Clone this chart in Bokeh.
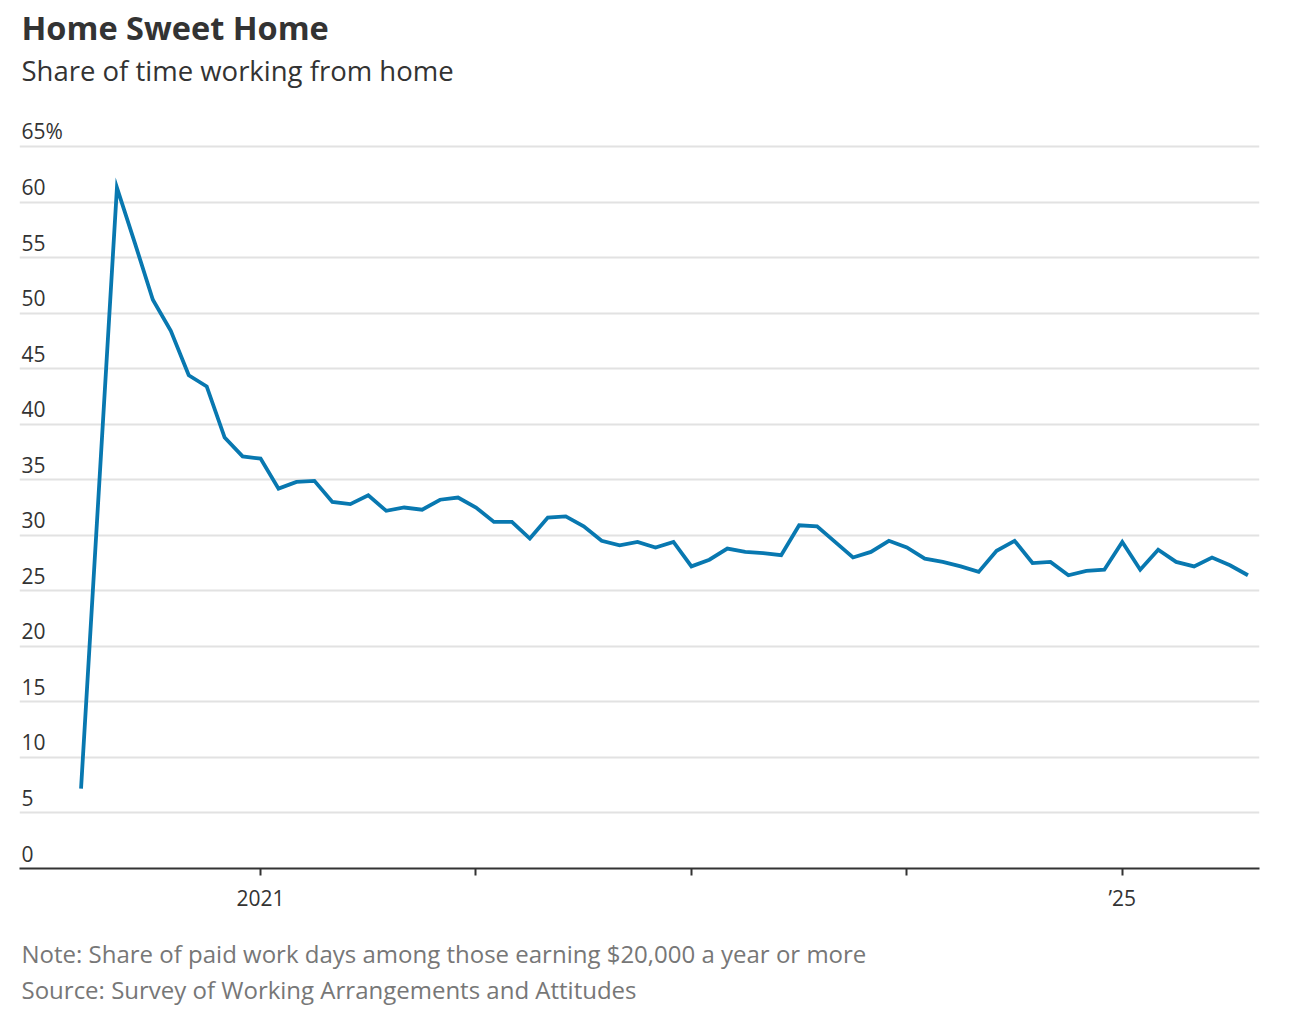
from bokeh.plotting import figure
from bokeh.layouts import column
from bokeh.models import FixedTicker, Range1d, ColumnDataSource
from bokeh.core.properties import value
from bokeh.embed import file_html
from bokeh.resources import INLINE

# ---- data ----
months = [
    "2020-03", "2020-05", "2020-06", "2020-07", "2020-08", "2020-09", "2020-10", "2020-11", "2020-12",
    "2021-01", "2021-02", "2021-03", "2021-04", "2021-05", "2021-06", "2021-07", "2021-08", "2021-09",
    "2021-10", "2021-11", "2021-12",
    "2022-01", "2022-02", "2022-03", "2022-04", "2022-05", "2022-06", "2022-07", "2022-08", "2022-09",
    "2022-10", "2022-11", "2022-12",
    "2023-01", "2023-02", "2023-03", "2023-04", "2023-05", "2023-06", "2023-07", "2023-08", "2023-09",
    "2023-10", "2023-11", "2023-12",
    "2024-01", "2024-02", "2024-03", "2024-04", "2024-05", "2024-06", "2024-07", "2024-08", "2024-09",
    "2024-10", "2024-11", "2024-12",
    "2025-01", "2025-02", "2025-03", "2025-04", "2025-05", "2025-06", "2025-07", "2025-08",
]
share_wfh = [
    7.2, 61.3, 56.3, 51.2, 48.4, 44.4, 43.4, 38.8, 37.1,
    36.9, 34.2, 34.8, 34.9, 33.0, 32.8, 33.6, 32.2, 32.5,
    32.3, 33.2, 33.4,
    32.5, 31.2, 31.2, 29.7, 31.6, 31.7, 30.8, 29.5, 29.1,
    29.4, 28.9, 29.4,
    27.2, 27.8, 28.8, 28.5, 28.4, 28.2, 30.9, 30.8, 29.4,
    28.0, 28.5, 29.5,
    28.9, 27.9, 27.6, 27.2, 26.7, 28.6, 29.5, 27.5, 27.6,
    26.4, 26.8, 26.9,
    29.4, 26.9, 28.7, 27.6, 27.2, 28.0, 27.3, 26.4,
]
y_ticks = [0, 5, 10, 15, 20, 25, 30, 35, 40, 45, 50, 55, 60, 65]
y_tick_labels = ["0", "5", "10", "15", "20", "25", "30", "35", "40", "45", "50", "55", "60", "65%"]
x_ticks = [2021, 2022, 2023, 2024, 2025]
x_tick_labels = ["2021", "", "", "", "\u201925"]

title_text = "Home Sweet Home"
subtitle_text = "Share of time working from home"
note_text = "Note: Share of paid work days among those earning $20,000 a year or more"
source_text = "Source: Survey of Working Arrangements and Attitudes"

# decimal-year positions of each monthly observation
x_pos = [int(m[:4]) + (int(m[5:7]) - 1) / 12.0 for m in months]

FONT = "Open Sans"
DARK = "#333333"
GREY = "#777777"
BLUE = "#0878b0"
W = 1284
BL, BR = 19, 25          # left / right borders (shared by all stacked figures)
FW = W - BL - BR         # frame width


def text_panel(height, texts, ys, sizes, colors, styles):
    f = figure(width=W, height=height, x_range=Range1d(0, FW), y_range=Range1d(0, height),
               output_backend="svg", toolbar_location=None, title=None,
               min_border_left=BL, min_border_right=BR, min_border_top=0, min_border_bottom=0)
    f.axis.visible = False
    f.grid.visible = False
    f.outline_line_color = None
    for t, y, s, c, st in zip(texts, ys, sizes, colors, styles):
        f.text(x=[2], y=[y], text=[t], text_font=value(FONT), text_font_size=s,
               text_color=c, text_font_style=st, text_baseline="alphabetic", text_align="left")
    return f


# header: title and subtitle
header = text_panel(96, [title_text, subtitle_text], [69.4, 26.2],
                    ["32.5px", "27.5px"], [DARK, DARK], ["bold", "normal"])

# main chart
x_start, x_end = 2019.881, 2025.637
y_start, y_end = 0, 69.5

p = figure(
    width=W, height=822,
    x_range=Range1d(x_start, x_end), y_range=Range1d(y_start, y_end),
    output_backend="svg", toolbar_location=None, title=None,
    min_border_left=BL, min_border_right=BR, min_border_top=0, min_border_bottom=50,
)
p.outline_line_color = None

p.xgrid.grid_line_color = None
p.ygrid.ticker = FixedTicker(ticks=[t for t in y_ticks if t > 0])
p.ygrid.grid_line_color = "#e2e2e2"
p.ygrid.grid_line_width = 2

p.yaxis.visible = False
lab_src = ColumnDataSource(dict(x=[x_start] * len(y_ticks), y=y_ticks, t=y_tick_labels))
p.text(x="x", y="y", text="t", source=lab_src, x_offset=2, y_offset=-15,
       text_baseline="alphabetic", text_align="left", text_font=value(FONT),
       text_font_size="21px", text_color=DARK)

xa = p.xaxis[0]
xa.ticker = FixedTicker(ticks=x_ticks)
xa.major_label_overrides = dict(zip(x_ticks, x_tick_labels))
xa.axis_line_color = DARK
xa.axis_line_width = 2
xa.major_tick_line_color = DARK
xa.major_tick_line_width = 2
xa.major_tick_in = 0
xa.major_tick_out = 7
xa.minor_tick_line_color = None
xa.major_label_standoff = 8
xa.major_label_text_font = FONT
xa.major_label_text_font_size = "21px"
xa.major_label_text_color = DARK

p.line(x_pos, share_wfh, line_color=BLUE, line_width=3.8, line_join="miter")

# footer: note and source
footer = text_panel(96, [note_text, source_text], [61.4, 24.9],
                    ["24px", "24px"], [GREY, GREY], ["normal", "normal"])

layout = column(header, p, footer, spacing=0)
open("out.html", "w").write(file_html(layout, INLINE))
